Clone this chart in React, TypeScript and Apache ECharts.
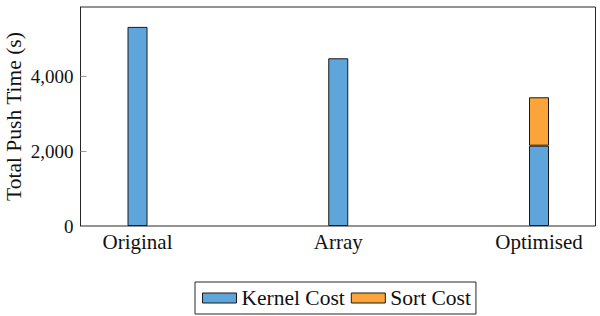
import React, { useEffect, useRef } from "react";
import * as echarts from "echarts";

const categories = ["Original", "Array", "Optimised"];
const kernelCost = [5333, 4492, 2151];
const sortCost: (number | string)[] = ["-", "-", 1297];
const yTicks = [0, 2000, 4000];
const yMax = 5866;

const FONT = "'Liberation Serif', 'Times New Roman', serif";
const FRAME = "#262626";

export default function App() {
  const ref = useRef<HTMLDivElement>(null);
  useEffect(() => {
    if (!ref.current) return;
    const chart = echarts.init(ref.current, undefined, { renderer: "svg" });
    chart.setOption({
      animation: false,
      grid: [
        {
          left: 80.5,
          right: 4.5,
          top: 7,
          bottom: 90,
          show: true,
          borderColor: FRAME,
          borderWidth: 1,
          backgroundColor: "transparent",
          containLabel: false,
          outerBoundsMode: "none",
        },
        {
          left: 137.5,
          right: 61,
          top: 7,
          bottom: 90,
          containLabel: false,
          outerBoundsMode: "none",
        },
      ],
      xAxis: [
        {
          gridIndex: 0,
          type: "value",
          min: 0,
          max: 1,
          show: false,
        },
        {
          gridIndex: 1,
          type: "category",
          data: categories,
          boundaryGap: false,
          axisLine: { show: false },
          axisTick: { show: false },
          splitLine: { show: false },
          axisLabel: {
            color: "#111",
            fontFamily: FONT,
            fontSize: 21,
            margin: 5,
            interval: 0,
          },
        },
      ],
      yAxis: [
        {
          gridIndex: 0,
          type: "value",
          min: 0,
          max: yMax,
          name: "Total Push Time (s)",
          nameLocation: "middle",
          nameGap: 56,
          nameMoveOverlap: false,
          nameTextStyle: { fontFamily: FONT, fontSize: 21.5, color: "#111" },
          splitLine: { show: false },
          axisLine: { show: true, onZero: false, lineStyle: { color: FRAME } },
          axisTick: {
            show: true,
            inside: true,
            length: 6,
            customValues: yTicks,
            lineStyle: { color: "#999" },
          },
          axisLabel: {
            customValues: yTicks,
            formatter: (v: number) => v.toLocaleString("en-US"),
            color: "#111",
            fontFamily: FONT,
            fontSize: 19,
            margin: 7,
          },
        },
        {
          gridIndex: 1,
          type: "value",
          min: 0,
          max: yMax,
          show: false,
          splitLine: { show: false },
        },
      ],
      legend: {
        left: 195,
        top: 282,
        orient: "horizontal",
        icon: "rect",
        itemWidth: 34,
        itemHeight: 10,
        itemGap: 6,
        padding: [5, 5, 5, 7],
        borderColor: FRAME,
        borderWidth: 1,
        textStyle: { fontFamily: FONT, fontSize: 21.5, color: "#111" },
        itemStyle: { borderColor: "#1a1a1a", borderWidth: 1 },
        data: ["Kernel Cost", "Sort Cost"],
      },
      series: [
        {
          name: "Kernel Cost",
          type: "bar",
          stack: "total",
          xAxisIndex: 1,
          yAxisIndex: 1,
          barWidth: 20,
          data: kernelCost,
          itemStyle: { color: "#5DA5DA", borderColor: "#1a1a1a", borderWidth: 1 },
        },
        {
          name: "Sort Cost",
          type: "bar",
          stack: "total",
          xAxisIndex: 1,
          yAxisIndex: 1,
          barWidth: 20,
          data: sortCost,
          itemStyle: { color: "#FAA43A", borderColor: "#1a1a1a", borderWidth: 1 },
        },
      ],
    });
    return () => chart.dispose();
  }, []);
  return <div ref={ref} style={{ width: 600, height: 316, position: "absolute", left: 0, top: 0 }} />;
}
